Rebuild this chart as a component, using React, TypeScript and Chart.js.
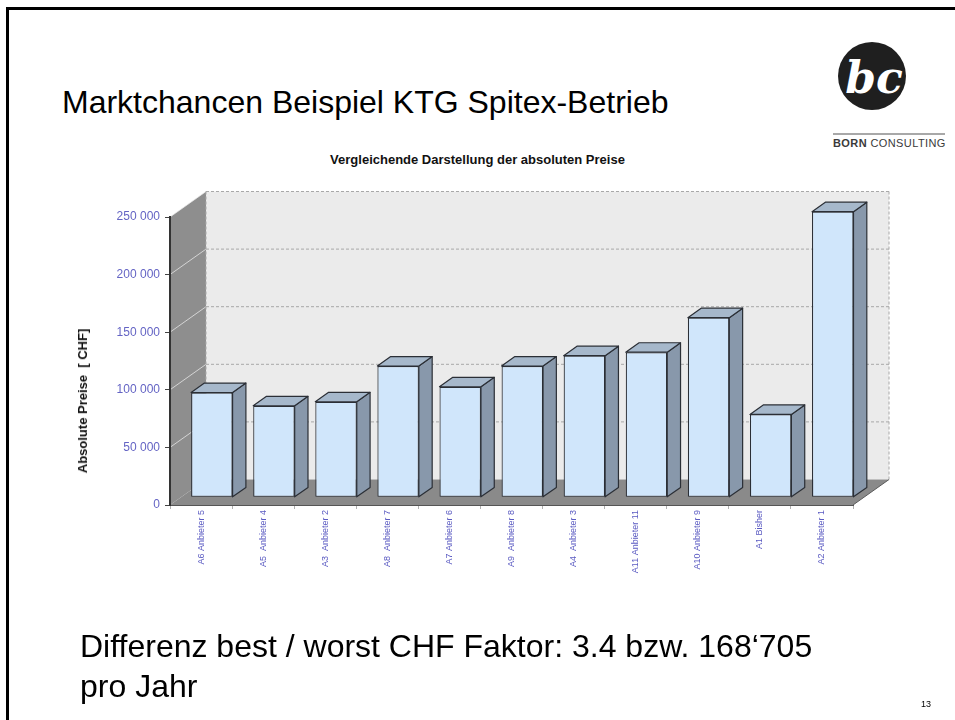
import React, { useEffect, useRef } from "react";
import { Chart, registerables } from "chart.js";

Chart.register(...registerables);

// ---- data ----
const categories: string[] = [
  "A6 Anbieter 5",
  "A5  Anbieter 4",
  "A3  Anbieter 2",
  "A8  Anbieter 7",
  "A7 Anbieter 6",
  "A9  Anbieter 8",
  "A4  Anbieter 3",
  "A11 Anbieter 11",
  "A10 Anbieter 9",
  "A1 Bisher",
  "A2 Anbieter 1",
];
const prices: number[] = [91000, 79500, 83000, 114000, 96000, 114000, 123000, 126000, 156000, 72000, 248000];
const yTicks: number[] = [0, 50000, 100000, 150000, 200000, 250000];

const slideTitle = "Marktchancen Beispiel KTG Spitex-Betrieb";
const chartTitle = "Vergleichende Darstellung der absoluten Preise";
const yAxisTitle = "Absolute Preise  [ CHF]";
const footerLine1 = "Differenz best / worst CHF Faktor: 3.4 bzw. 168\u2018705";
const footerLine2 = "pro Jahr";
const pageNumber = "13";

// ---- 3D look ----
const DX = 36;
const DY = -25.5;
const F1 = 0.3;
const F2 = 0.67;
const FONT = "'Liberation Sans', Arial, sans-serif";

function poly(ctx: CanvasRenderingContext2D, pts: number[][]) {
  ctx.beginPath();
  ctx.moveTo(pts[0][0], pts[0][1]);
  for (let i = 1; i < pts.length; i++) ctx.lineTo(pts[i][0], pts[i][1]);
  ctx.closePath();
}

const threeD = {
  id: "threeD",
  beforeDraw(chart: any) {
    const ctx: CanvasRenderingContext2D = chart.ctx;
    const { left: L, right: R, top: T, bottom: B } = chart.chartArea;
    const ys = chart.scales.y;
    ctx.save();
    // back wall
    ctx.fillStyle = "#ebebeb";
    ctx.fillRect(L + DX, T + DY, R - L, B - T);
    // left wall
    ctx.fillStyle = "#8e8e8e";
    poly(ctx, [[L, T], [L + DX, T + DY], [L + DX, B + DY], [L, B]]);
    ctx.fill();
    // floor
    ctx.fillStyle = "#8a8a8a";
    poly(ctx, [[L, B], [R, B], [R + DX, B + DY], [L + DX, B + DY]]);
    ctx.fill();
    ctx.strokeStyle = "#5a5a5a";
    ctx.lineWidth = 1;
    ctx.beginPath();
    ctx.moveTo(R, B);
    ctx.lineTo(R + DX, B + DY);
    ctx.stroke();
    // grid lines
    yTicks.forEach((v) => {
      const y = ys.getPixelForValue(v);
      if (v > 0) {
        ctx.setLineDash([]);
        ctx.strokeStyle = "rgba(235,235,235,0.75)";
        ctx.lineWidth = 1;
        ctx.beginPath();
        ctx.moveTo(L, y);
        ctx.lineTo(L + DX, y + DY);
        ctx.stroke();
        ctx.setLineDash([3, 2]);
        ctx.strokeStyle = "#a8a8a8";
        ctx.beginPath();
        ctx.moveTo(L + DX, y + DY);
        ctx.lineTo(R + DX, y + DY);
        ctx.stroke();
      }
    });
    ctx.setLineDash([3, 2]);
    ctx.strokeStyle = "#a8a8a8";
    ctx.beginPath();
    ctx.moveTo(R + DX, T + DY);
    ctx.lineTo(R + DX, B + DY);
    ctx.moveTo(L + DX, T + DY);
    ctx.lineTo(L + DX, B + DY);
    ctx.stroke();
    ctx.restore();
  },
  beforeDatasetsDraw(chart: any) {
    chart.ctx.save();
    chart.ctx.translate(DX * F1, DY * F1);
  },
  afterDatasetsDraw(chart: any) {
    const ctx: CanvasRenderingContext2D = chart.ctx;
    ctx.restore();
    const meta = chart.getDatasetMeta(0);
    const ox = DX * F1;
    const oy = DY * F1;
    const ddx = DX * (F2 - F1);
    const ddy = DY * (F2 - F1);
    ctx.save();
    ctx.lineWidth = 1.2;
    ctx.strokeStyle = "#2b2f36";
    ctx.lineJoin = "round";
    meta.data.forEach((bar: any) => {
      const p = bar.getProps(["x", "y", "base", "width"], true);
      const l = p.x - p.width / 2 + ox;
      const r = p.x + p.width / 2 + ox;
      const t = p.y + oy;
      const b = p.base + oy;
      ctx.fillStyle = "#8898ab";
      poly(ctx, [[r, t], [r + ddx, t + ddy], [r + ddx, b + ddy], [r, b]]);
      ctx.fill();
      ctx.stroke();
      ctx.fillStyle = "#a6b8cb";
      poly(ctx, [[l, t], [r, t], [r + ddx, t + ddy], [l + ddx, t + ddy]]);
      ctx.fill();
      ctx.stroke();
    });
    ctx.restore();
  },
};

function fmt(v: number): string {
  return String(v).replace(/\B(?=(\d{3})+(?!\d))/g, " ");
}

function ChartCanvas() {
  const ref = useRef<HTMLCanvasElement | null>(null);
  useEffect(() => {
    if (!ref.current) return;
    const chart = new Chart(ref.current, {
      type: "bar",
      data: {
        labels: categories,
        datasets: [
          {
            data: prices,
            backgroundColor: "#d0e6fb",
            borderColor: "#2b2f36",
            borderWidth: 1.2,
            borderSkipped: false,
            categoryPercentage: 1,
            barPercentage: 0.668,
            clip: false,
          } as any,
        ],
      },
      options: {
        responsive: false,
        animation: false,
        devicePixelRatio: 1,
        events: [],
        layout: { padding: { left: 0, right: 102, top: 217, bottom: 115 } },
        plugins: {
          legend: { display: false },
          title: { display: false },
          tooltip: { enabled: false },
        },
        scales: {
          x: {
            grid: {
              display: true,
              drawOnChartArea: false,
              drawTicks: true,
              tickLength: 4,
              color: "#b0b0b0",
              offset: true,
            },
            border: { display: true, color: "#555555", width: 1 },
            ticks: {
              autoSkip: false,
              maxRotation: 90,
              minRotation: 90,
              padding: 1,
              color: "#5b5bc2",
              font: { family: FONT, size: 9 },
            },
            afterFit: (s: any) => {
              s.height = 100;
            },
          },
          y: {
            min: 0,
            max: 250000,
            afterBuildTicks: (s: any) => {
              s.ticks = yTicks.map((v) => ({ value: v }));
            },
            grid: {
              display: true,
              drawOnChartArea: false,
              drawTicks: true,
              tickLength: 5,
              color: "#444444",
            },
            border: { display: true, color: "#333333", width: 2 },
            ticks: {
              padding: 5,
              color: "#6464c4",
              font: { family: FONT, size: 12 },
              callback: (v: any) => fmt(Number(v)),
            },
            afterFit: (s: any) => {
              s.width = 170;
            },
          },
        },
      },
      plugins: [threeD as any],
    });
    return () => chart.destroy();
  }, []);
  return (
    <canvas
      ref={ref}
      width={955}
      height={720}
      style={{ position: "absolute", left: 0, top: 0, width: 955, height: 720 }}
    />
  );
}

export default function App() {
  return (
    <div
      style={{
        position: "absolute",
        left: 0,
        top: 0,
        width: 955,
        height: 720,
        overflow: "hidden",
        background: "#ffffff",
        fontFamily: FONT,
      }}
    >
      <div
        style={{
          position: "absolute",
          left: 6,
          top: 7,
          width: 1100,
          height: 1100,
          borderLeft: "3px solid #000",
          borderTop: "3px solid #000",
          boxSizing: "border-box",
        }}
      />
      <div
        style={{
          position: "absolute",
          left: 62,
          top: 82,
          fontSize: 32,
          lineHeight: "40px",
          color: "#000",
          whiteSpace: "nowrap",
        }}
      >
        {slideTitle}
      </div>
      <svg style={{ position: "absolute", left: 830, top: 35 }} width={120} height={120}>
        <circle cx={42} cy={41} r={34} fill="#1f1f1f" />
        <text
          x={44}
          y={58}
          textAnchor="middle"
          fontFamily="'DejaVu Serif', serif"
          fontStyle="italic"
          fontWeight="bold"
          fontSize={44}
          fill="#ffffff"
        >
          bc
        </text>
      </svg>
      <div style={{ position: "absolute", left: 833, top: 133, width: 112, height: 2, background: "#a8a8a8" }} />
      <div
        style={{
          position: "absolute",
          left: 833,
          top: 137,
          fontSize: 11,
          lineHeight: "13px",
          color: "#3a3a3a",
          letterSpacing: 0.4,
          whiteSpace: "nowrap",
        }}
      >
        <b>BORN</b> CONSULTING
      </div>
      <div
        style={{
          position: "absolute",
          left: 0,
          width: 955,
          top: 152,
          textAlign: "center",
          fontSize: 13,
          fontWeight: "bold",
          lineHeight: "16px",
          color: "#111",
        }}
      >
        {chartTitle}
      </div>
      <ChartCanvas />
      <div
        style={{
          position: "absolute",
          left: 83,
          top: 401,
          transform: "translate(-50%, -50%) rotate(-90deg)",
          fontSize: 13,
          fontWeight: "bold",
          lineHeight: "16px",
          color: "#111",
          whiteSpace: "pre",
        }}
      >
        {yAxisTitle}
      </div>
      <div
        style={{
          position: "absolute",
          left: 80,
          top: 626,
          fontSize: 32,
          lineHeight: "40px",
          color: "#000",
          whiteSpace: "nowrap",
        }}
      >
        <div>{footerLine1}</div>
        <div>{footerLine2}</div>
      </div>
      <div style={{ position: "absolute", left: 921, top: 699, fontSize: 9, lineHeight: "11px", color: "#000" }}>
        {pageNumber}
      </div>
    </div>
  );
}
